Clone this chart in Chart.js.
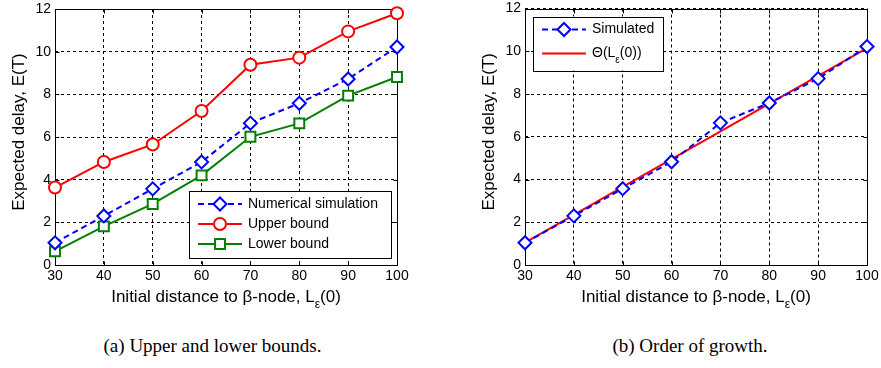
<!DOCTYPE html>
<html>
<head>
<meta charset="utf-8">
<script src="https://cdn.jsdelivr.net/npm/chart.js@4.4.1/dist/chart.umd.min.js"></script>
<style>
  body { margin: 0; background: #fff; }
  #wrap { position: relative; width: 881px; height: 368px; }
  .panel { position: absolute; top: 0; }
  .caption { position: absolute; top: 335px; font-family: "Liberation Serif", serif; font-size: 19px; color: #000; text-align: center; }
</style>
</head>
<body>
<div id="wrap">
  <div class="panel" style="left:0"><canvas id="chartA" width="440" height="310"></canvas></div>
  <div class="panel" style="left:440px"><canvas id="chartB" width="441" height="310"></canvas></div>
  <div class="caption" style="left:0;width:425px">(a) Upper and lower bounds.</div>
  <div class="caption" style="left:475px;width:430px">(b) Order of growth.</div>
</div>
<script>
// data
const distances = [30, 40, 50, 60, 70, 80, 90, 100];
const simulated = [1.04, 2.30, 3.57, 4.83, 6.65, 7.58, 8.72, 10.22];
const upperBound = [3.63, 4.83, 5.65, 7.22, 9.39, 9.72, 10.95, 11.80];
const lowerBound = [0.64, 1.81, 2.86, 4.20, 6.01, 6.64, 7.94, 8.81];
const growthFit = [1.05, 2.35, 3.65, 4.95, 6.25, 7.55, 8.85, 10.15];
const xTicks = [30, 40, 50, 60, 70, 80, 90, 100];
const yTicks = [0, 2, 4, 6, 8, 10, 12];

const FONT = "'Liberation Sans', Arial, sans-serif";
Chart.defaults.color = '#000';
Chart.defaults.font.family = FONT;

function pts(ys) {
  return distances.map(function (d, i) { return { x: d, y: ys[i] }; });
}

// text with a subscript part, parts = [[text, isSub], ...]
function drawRich(ctx, parts, x, y, size, align) {
  const subSize = Math.round(size * 0.7);
  let total = 0;
  parts.forEach(function (p) {
    ctx.font = (p[1] ? subSize : size) + 'px ' + FONT;
    total += ctx.measureText(p[0]).width;
  });
  let cx = align === 'center' ? x - total / 2 : x;
  ctx.textAlign = 'left';
  ctx.textBaseline = 'middle';
  parts.forEach(function (p) {
    ctx.font = (p[1] ? subSize : size) + 'px ' + FONT;
    ctx.fillText(p[0], cx, p[1] ? y + size * 0.45 : y);
    cx += ctx.measureText(p[0]).width;
  });
}

function drawMarker(ctx, ds, x, y) {
  ctx.save();
  ctx.strokeStyle = ds.borderColor;
  ctx.lineWidth = 2;
  ctx.setLineDash(ds.borderDash || []);
  ctx.beginPath();
  ctx.moveTo(x - 22, y);
  ctx.lineTo(x + 22, y);
  ctx.stroke();
  ctx.setLineDash([]);
  if (ds.pointRadius > 0) {
    ctx.fillStyle = '#fff';
    ctx.strokeStyle = ds.borderColor;
    ctx.lineWidth = 2;
    ctx.beginPath();
    Chart.helpers.drawPoint(ctx, { pointStyle: ds.pointStyle, rotation: 0, radius: ds.pointRadius, borderWidth: 2 }, x, y);
  }
  ctx.restore();
}

const framePlugin = {
  id: 'frame',
  beforeDatasetsDraw(chart) {
    const a = chart.chartArea;
    const ctx = chart.ctx;
    const xs = chart.scales.x, ys = chart.scales.y;
    ctx.save();
    ctx.strokeStyle = '#000';
    ctx.lineWidth = 1;
    ctx.setLineDash([]);
    const l = Math.round(a.left) + 0.5, r = Math.round(a.right) + 0.5;
    const t = Math.round(a.top) + 0.5, b = Math.round(a.bottom) + 0.5;
    ctx.strokeRect(l, t, r - l, b - t);
    ctx.beginPath();
    xTicks.forEach(function (v) {
      const px = Math.round(xs.getPixelForValue(v)) + 0.5;
      ctx.moveTo(px, b); ctx.lineTo(px, b - 4);
      ctx.moveTo(px, t); ctx.lineTo(px, t + 4);
    });
    yTicks.forEach(function (v) {
      const py = Math.round(ys.getPixelForValue(v)) + 0.5;
      ctx.moveTo(l, py); ctx.lineTo(l + 4, py);
      ctx.moveTo(r, py); ctx.lineTo(r - 4, py);
    });
    ctx.stroke();
    ctx.restore();
  },
  afterDraw(chart) {
    const a = chart.chartArea;
    const ctx = chart.ctx;
    const o = chart.options.plugins.frame;
    ctx.save();
    ctx.fillStyle = '#000';
    // x title
    drawRich(ctx, [['Initial distance to \u03b2-node, L', false], ['\u03b5', true], ['(0)', false]],
      (a.left + a.right) / 2, 297, 17, 'center');
    // y title
    ctx.translate(a.left - 36, (a.top + a.bottom) / 2 - 5);
    ctx.rotate(-Math.PI / 2);
    drawRich(ctx, [['Expected delay, E(T)', false]], 0, 0, 17, 'center');
    ctx.restore();

    // legend box
    const L = o.legend;
    const bx = L.right ? a.right - L.right - L.w : a.left + L.left;
    const by = L.bottom ? a.bottom - L.bottom - L.h : a.top + L.top;
    ctx.save();
    ctx.fillStyle = '#fff';
    ctx.fillRect(bx, by, L.w, L.h);
    ctx.strokeStyle = '#000';
    ctx.lineWidth = 1;
    ctx.strokeRect(Math.round(bx) + 0.5, Math.round(by) + 0.5, L.w, L.h);
    chart.data.datasets.forEach(function (ds, i) {
      const ry = by + L.rows[i];
      drawMarker(ctx, ds, bx + L.mark, ry);
      ctx.fillStyle = '#000';
      drawRich(ctx, ds.legendParts, bx + L.text, ry, 14, 'left');
    });
    ctx.restore();
  }
};

function makeChart(id, datasets, padLeft, padRight, legend) {
  return new Chart(document.getElementById(id), {
    type: 'line',
    data: { datasets: datasets },
    options: {
      responsive: false,
      devicePixelRatio: 1,
      animation: false,
      layout: { padding: { left: padLeft, right: padRight, top: 4, bottom: 0 } },
      plugins: {
        legend: { display: false },
        tooltip: { enabled: false },
        frame: { legend: legend }
      },
      scales: {
        x: {
          type: 'linear', min: 30, max: 100,
          afterBuildTicks: function (s) { s.ticks = xTicks.map(function (v) { return { value: v }; }); },
          afterFit: function (s) { s.height = 45; s.paddingLeft = 0; s.paddingRight = 0; },
          ticks: { font: { size: 14 }, padding: 3, maxRotation: 0 },
          grid: { color: '#000', lineWidth: 1, drawTicks: false },
          border: { display: false, dash: [3, 3] }
        },
        y: {
          min: 0, max: 12,
          afterBuildTicks: function (s) { s.ticks = yTicks.map(function (v) { return { value: v }; }); },
          afterFit: function (s) { s.width = 55; s.paddingTop = 0; s.paddingBottom = 0; },
          ticks: { font: { size: 14 }, padding: 4 },
          grid: { color: '#000', lineWidth: 1, drawTicks: false },
          border: { display: false, dash: [3, 3] }
        }
      }
    },
    plugins: [framePlugin]
  });
}

const simStyle = {
  borderColor: '#0000ff', borderWidth: 2, borderDash: [6, 4],
  pointStyle: 'rectRot', pointRadius: 6.5, pointBorderWidth: 2,
  pointBackgroundColor: '#fff', pointBorderColor: '#0000ff', clip: false
};

makeChart('chartA', [
  Object.assign({ label: 'Numerical simulation', legendParts: [['Numerical simulation', false]], data: pts(simulated) }, simStyle),
  {
    label: 'Upper bound', legendParts: [['Upper bound', false]], data: pts(upperBound),
    borderColor: '#ff0000', borderWidth: 2, pointStyle: 'circle', pointRadius: 6,
    pointBorderWidth: 2, pointBackgroundColor: '#fff', pointBorderColor: '#ff0000', clip: false
  },
  {
    label: 'Lower bound', legendParts: [['Lower bound', false]], data: pts(lowerBound),
    borderColor: '#008000', borderWidth: 2, pointStyle: 'rect', pointRadius: 7,
    pointBorderWidth: 2, pointBackgroundColor: '#fff', pointBorderColor: '#008000', clip: false
  }
], 0, 43, { right: 6, bottom: 7, w: 202, h: 67, rows: [13, 33, 53], mark: 31, text: 59 });

makeChart('chartB', [
  Object.assign({ label: 'Simulated', legendParts: [['Simulated', false]], data: pts(simulated) }, simStyle),
  {
    label: 'Theta', legendParts: [['\u0398(L', false], ['\u03b5', true], ['(0))', false]], data: pts(growthFit),
    borderColor: '#ff0000', borderWidth: 2, pointRadius: 0, clip: false
  }
], 30, 14, { left: 8, top: 8, w: 130, h: 54, rows: [13, 37], mark: 31, text: 59 });
</script>
</body>
</html>
